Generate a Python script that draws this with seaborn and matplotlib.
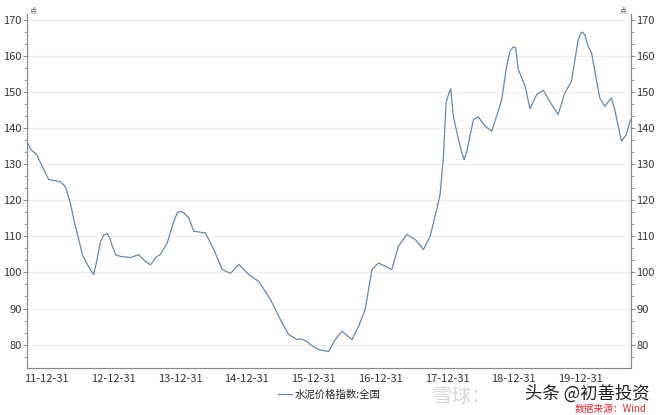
import pandas as pd
import seaborn as sns
import matplotlib.pyplot as plt
import matplotlib.dates as mdates
from matplotlib.ticker import AutoMinorLocator

dates = ['2011-09-16', '2011-10-05', '2011-11-06', '2011-12-09', '2012-01-11',
         '2012-03-17', '2012-04-13', '2012-05-10', '2012-05-27', '2012-06-23',
         '2012-07-15', '2012-08-11', '2012-08-27', '2012-09-13', '2012-09-29',
         '2012-10-21', '2012-11-07', '2012-11-27', '2012-12-09', '2012-12-22',
         '2013-01-11', '2013-02-08', '2013-04-03', '2013-05-17', '2013-06-24',
         '2013-07-22', '2013-08-18', '2013-09-14', '2013-10-21', '2013-11-26',
         '2013-12-16', '2014-01-02', '2014-01-24', '2014-02-16', '2014-03-15',
         '2014-05-18', '2014-07-03', '2014-08-18', '2014-10-02', '2014-11-17',
         '2015-01-10', '2015-03-06', '2015-05-09', '2015-07-03', '2015-08-17',
         '2015-10-02', '2015-10-20', '2015-11-26', '2015-12-14', '2016-01-28',
         '2016-03-23', '2016-04-28', '2016-06-04', '2016-07-29', '2016-09-03',
         '2016-10-09', '2016-11-15', '2016-12-21', '2017-03-04', '2017-04-09',
         '2017-05-25', '2017-07-10', '2017-08-24', '2017-09-30', '2017-11-05',
         '2017-11-23', '2017-12-12', '2017-12-26', '2018-01-11', '2018-01-21',
         '2018-02-04', '2018-03-04', '2018-03-19', '2018-04-04', '2018-04-20',
         '2018-05-06', '2018-05-25', '2018-06-21', '2018-07-28', '2018-09-02',
         '2018-09-29', '2018-10-27', '2018-11-23', '2018-12-11', '2018-12-29',
         '2019-01-11', '2019-01-26', '2019-03-03', '2019-03-31', '2019-05-06',
         '2019-06-12', '2019-07-27', '2019-09-01', '2019-10-08', '2019-11-13',
         '2019-12-20', '2020-01-02', '2020-01-13', '2020-01-25', '2020-02-12',
         '2020-03-02', '2020-04-16', '2020-05-14', '2020-06-19', '2020-07-07',
         '2020-08-13', '2020-09-09', '2020-10-01']
values = [135.9, 134.0, 132.6, 129.0, 125.7,
          125.1, 123.5, 118.8, 114.6, 109.1,
          104.6, 102.1, 100.6, 99.4, 103.0,
          108.6, 110.3, 110.7, 109.6, 107.6,
          104.9, 104.4, 104.1, 104.9, 103.0,
          102.1, 104.1, 105.0, 108.2, 114.2,
          116.6, 116.9, 116.3, 115.1, 111.4,
          110.9, 106.3, 100.8, 99.7, 102.2,
          99.4, 97.5, 92.5, 86.9, 82.8,
          81.4, 81.6, 80.9, 80.0, 78.6,
          78.1, 81.4, 83.7, 81.4, 85.1,
          89.7, 100.8, 102.6, 100.8, 107.2,
          110.5, 109.1, 106.3, 110.0, 117.4,
          121.5, 132.1, 146.9, 149.7, 150.8,
          143.2, 136.8, 133.8, 131.2, 133.6,
          137.7, 142.3, 143.0, 140.5, 139.1,
          143.2, 147.8, 157.1, 161.2, 162.4,
          162.2, 156.2, 151.7, 145.3, 149.2,
          150.4, 146.5, 143.7, 149.7, 152.9,
          164.5, 166.1, 166.5, 165.8, 162.6,
          160.8, 148.3, 146.0, 148.3, 145.1,
          136.3, 138.2, 142.3]
series_name = '水泥价格指数:全国'

df = pd.DataFrame({'date': pd.to_datetime(dates), 'value': values})

sns.set_style('white')
plt.rcParams['font.family'] = ['Noto Sans CJK SC', 'DejaVu Sans']

fig = plt.figure(figsize=(6.6, 4.15), dpi=100)
ax = fig.add_axes([0.041, 0.113, 0.915, 0.853])

sns.lineplot(data=df, x='date', y='value', ax=ax, color='#6688aa',
             linewidth=0.9, label=series_name)

ax.set_xlim(pd.Timestamp('2011-09-14'), pd.Timestamp('2020-10-04'))
ax.set_ylim(73.5, 171.5)
ax.set_xlabel('')
ax.set_ylabel('')

ax.set_yticks(range(80, 171, 10))
ax.yaxis.set_minor_locator(AutoMinorLocator(3))
ax.grid(axis='y', color='#efefef', linewidth=0.8)

ax.xaxis.set_major_locator(mdates.YearLocator(month=12, day=31))
ax.xaxis.set_minor_locator(mdates.MonthLocator(bymonth=[3, 6, 9, 12], bymonthday=-1))
ax.xaxis.set_major_formatter(mdates.DateFormatter('%y-%m-%d'))

ax2 = ax.twinx()
ax2.set_ylim(ax.get_ylim())
ax2.set_yticks(range(80, 171, 10))
ax2.yaxis.set_minor_locator(AutoMinorLocator(3))

for a in (ax, ax2):
    a.spines['top'].set_visible(False)
    for side in ('left', 'right', 'bottom'):
        a.spines[side].set_color('#8a8a8a')
        a.spines[side].set_linewidth(0.8)
    a.tick_params(which='major', length=3, width=0.7, color='#8a8a8a',
                  labelsize=8, labelcolor='#333333', pad=1)
    a.tick_params(which='minor', length=2, width=0.6, color='#8a8a8a')

ax.text(0.004, 1.005, '点', transform=ax.transAxes, fontsize=5, color='#555555')
ax.text(0.982, 1.005, '点', transform=ax.transAxes, fontsize=5, color='#555555')

ax.legend(loc='upper center', bbox_to_anchor=(0.5, -0.035), frameon=False,
          fontsize=7.5, handlelength=1.4, handletextpad=0.2)

# watermark / source text from the shared image
fig.text(0.655, 0.045, '雪球：', fontsize=14, color='#d8d8d8', va='center')
fig.text(0.985, 0.052, '头条 @初善投资', fontsize=12.5, color='#222222',
         ha='right', va='center')
fig.text(0.98, 0.014, '数据来源：Wind', fontsize=7, color='#d9282f',
         ha='right', va='center', style='italic')

fig.savefig('out.png', dpi=100)
